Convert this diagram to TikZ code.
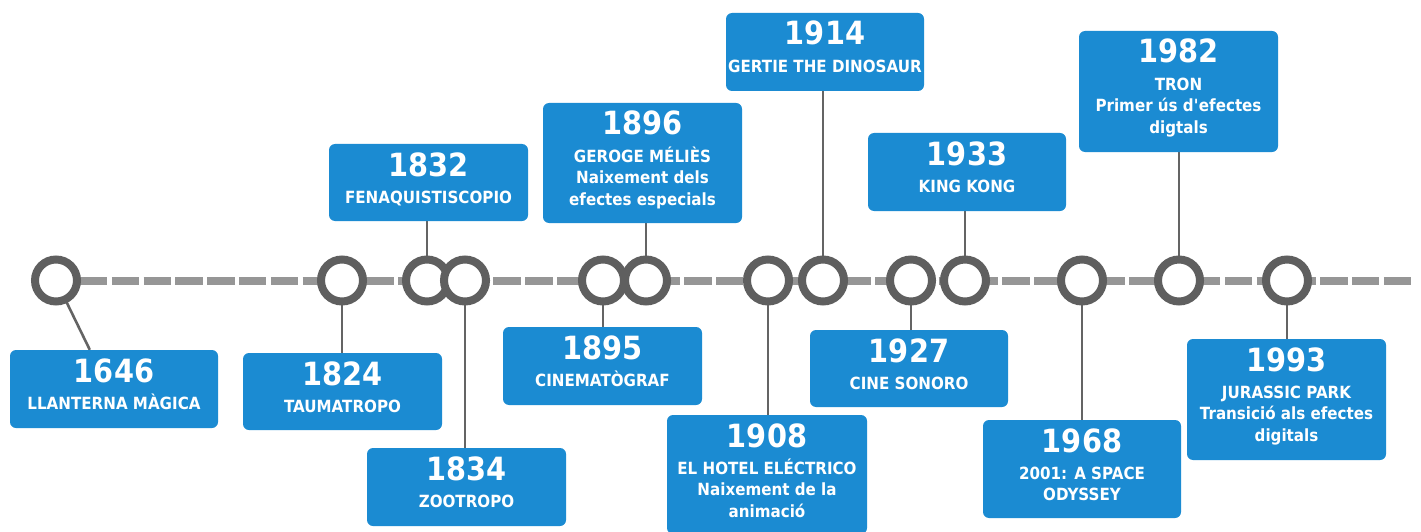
\documentclass[tikz,border=0pt]{standalone}
\usepackage{fontspec}
\setmainfont{DejaVu Sans}[FakeStretch=0.9]
\usetikzlibrary{backgrounds}
\definecolor{boxblue}{RGB}{27,139,210}
\definecolor{ringgray}{RGB}{95,95,95}
\definecolor{dashgray}{RGB}{150,150,150}
\definecolor{linkgray}{RGB}{100,100,100}
\newcommand\tlevent[7]{%
  % #1 year, #2 circle x, #3 x1, #4 y1, #5 x2, #6 y2, #7 subtitle
  \node[ring] (c#1) at (#2,280.5) {};
  \node[evbox, minimum width={#5-#3}, minimum height={#6-#4}] (b#1) at ({(#3+#5)/2},{(#4+#6)/2}) {};
  \node[yeartext] (y#1) at ({(#3+#5)/2},{#4+32}) {#1};
  \node[subtext] (s#1) at ({(#3+#5)/2},{#4+42}) {\rule{0pt}{17pt}#7};
}
\begin{document}
\begin{tikzpicture}[x=1pt,y=-1pt,
  evbox/.style={fill=boxblue, rounded corners=6pt, inner sep=0pt, draw=none},
  ring/.style={circle, draw=ringgray, line width=8pt, fill=white, minimum size=42pt, inner sep=0pt},
  yeartext/.style={text=white, font=\bfseries\fontsize{32}{36}\selectfont, anchor=base, inner sep=0pt},
  subtext/.style={text=white, font=\bfseries\fontsize{16.8}{21.7}\selectfont, align=center, anchor=north, inner sep=0pt},
  link/.style={draw=linkgray, line width=2.6pt},
  timeline/.style={draw=dashgray, line width=8pt, dash pattern=on 27.3pt off 4.5pt, dash phase=16.6pt}]
\useasboundingbox (0,0) rectangle (1421,532);
\tlevent{1646}{56}{10}{350}{218}{428}{LLANTERNA MÀGICA}
\tlevent{1824}{342}{243}{353}{442}{430}{TAUMATROPO}
\tlevent{1832}{427}{329}{144}{528}{221}{FENAQUISTISCOPIO}
\tlevent{1834}{465}{367}{448}{566}{526}{ZOOTROPO}
\tlevent{1895}{603}{503}{327}{702}{405}{CINEMATÒGRAF}
\tlevent{1896}{646}{543}{103}{742}{223}{GEROGE MÉLIÈS\\Naixement dels\\efectes especials}
\tlevent{1908}{768}{667}{415}{867}{534}{EL HOTEL ELÉCTRICO\\Naixement de la\\animació}
\tlevent{1914}{823}{726}{13}{924}{91}{GERTIE THE DINOSAUR}
\tlevent{1927}{911}{810}{330}{1008}{407}{CINE SONORO}
\tlevent{1933}{965}{868}{133}{1066}{211}{KING KONG}
\tlevent{1968}{1082}{983}{420}{1181}{518}{2001: A SPACE\\ODYSSEY}
\tlevent{1982}{1179}{1079}{31}{1278}{152}{TRON\\Primer ús d\textquotesingle efectes\\digtals}
\tlevent{1993}{1287}{1187}{339}{1386}{460}{JURASSIC PARK\\Transició als efectes\\digitals}
\coordinate (tlstart) at (33,280.5);
\coordinate (tlend) at (1412,280.5);
\begin{scope}[on background layer]
  \draw[timeline] (tlstart) -- (tlend);
  \draw[link] (c1646.center) -- ([xshift=80pt]b1646.north west);
  \foreach \e in {1824,1834,1895,1908,1927,1968,1993}
    \draw[link] (c\e.center) -- (c\e.center |- b\e.north);
  \foreach \e in {1832,1896,1914,1933,1982}
    \draw[link] (c\e.center) -- (c\e.center |- b\e.south);
\end{scope}
\end{tikzpicture}
\end{document}
